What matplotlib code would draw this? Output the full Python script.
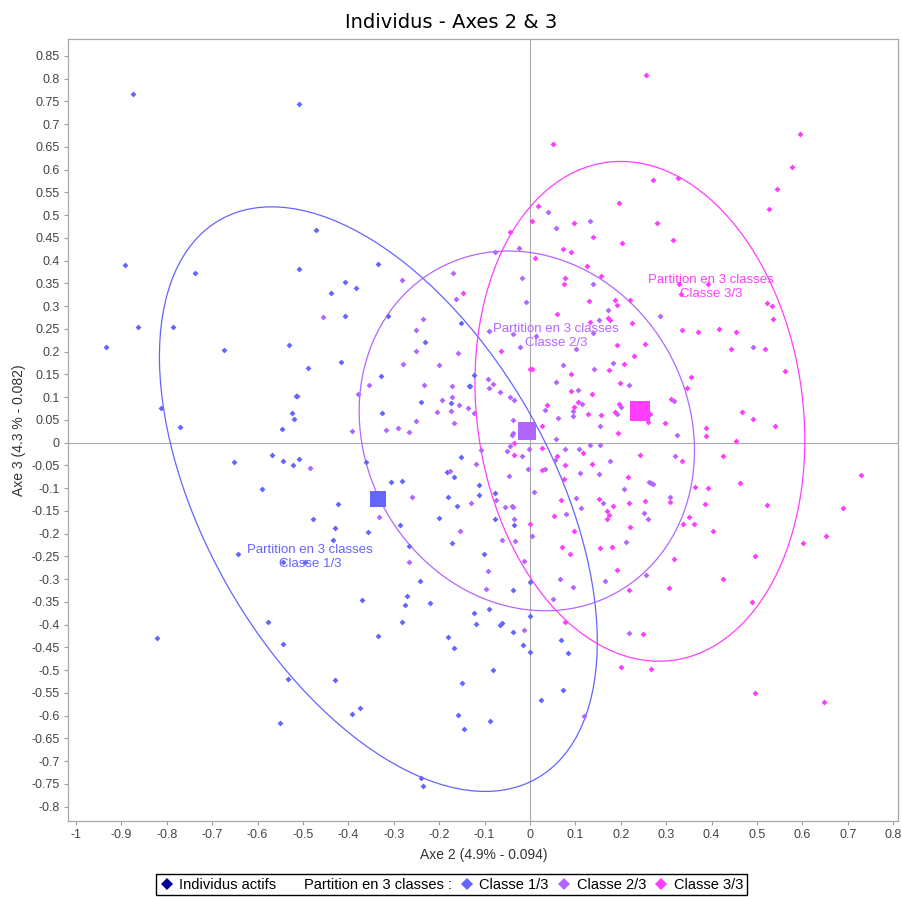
import matplotlib
matplotlib.use('Agg')
import matplotlib.pyplot as plt
from matplotlib.patches import Ellipse
from matplotlib.lines import Line2D
from matplotlib.ticker import FuncFormatter, MultipleLocator

plt.rcParams['font.family'] = ['Liberation Sans', 'DejaVu Sans']
plt.rcParams['axes.unicode_minus'] = False

# ---- individus, classe 1/3 ----
x1 = [-0.874, -0.508, -0.891, -0.737, -0.471, -0.508, -0.864, -0.786, -0.934, -0.675,
      -0.813, -0.772, -0.531, -0.488, -0.516, -0.514, -0.524, -0.520, -0.546, -0.438,
      -0.653, -0.568, -0.543, -0.523, -0.509, -0.590, -0.423, -0.479, -0.429, -0.433,
      -0.643, -0.543, -0.495, -0.576, -0.822, -0.543, -0.532, -0.430, -0.550, -0.391,
      -0.375, -0.241, -0.235, 0.072, 0.025, -0.089, -0.145, -0.159,
      -0.335, -0.408, -0.383,
      -0.408, -0.313, -0.153, -0.232, -0.417, -0.329, -0.123, -0.135, -0.132, -0.241,
      -0.175, -0.327,
      -0.361, -0.306, -0.282, -0.152, -0.183, -0.167, -0.112, -0.112, -0.076, -0.181,
      -0.160, -0.287, -0.200, -0.078, -0.356, -0.266, -0.172, -0.035, -0.101,
      -0.369, -0.242, -0.272, -0.276, -0.220, -0.283, -0.335, -0.180, -0.167, -0.123,
      -0.118, -0.090, -0.065, -0.062, -0.037, -0.037, -0.016, 0.001, 0.001, -0.001,
      -0.082, -0.149, 0.069, 0.084]
y1 = [0.766, 0.745, 0.391, 0.374, 0.468, 0.382, 0.254, 0.254, 0.210, 0.204,
      0.077, 0.034, 0.215, 0.164, 0.103, 0.102, 0.065, 0.052, 0.030, 0.328,
      -0.042, -0.026, -0.040, -0.048, -0.036, -0.102, -0.134, -0.168, -0.187, -0.214,
      -0.245, -0.262, -0.263, -0.393, -0.429, -0.442, -0.519, -0.521, -0.615, -0.596,
      -0.583, -0.736, -0.754, -0.544, -0.566, -0.612, -0.629, -0.599,
      0.393, 0.353, 0.340,
      0.278, 0.278, 0.263, 0.221, 0.177, 0.146, 0.149, 0.125, 0.124, 0.090,
      0.087, 0.066,
      -0.042, -0.087, -0.084, -0.031, -0.065, -0.076, -0.094, -0.116, -0.111, -0.119,
      -0.140, -0.181, -0.166, -0.168, -0.196, -0.226, -0.220, -0.180, -0.245,
      -0.345, -0.304, -0.337, -0.356, -0.352, -0.393, -0.425, -0.427, -0.451, -0.375,
      -0.399, -0.366, -0.401, -0.396, -0.323, -0.415, -0.445, -0.307, -0.381, -0.459,
      -0.500, -0.527, -0.434, -0.462]

# ---- individus, classe 2/3 ----
x2 = [-0.456, -0.485, 0.118,
      -0.283, -0.169, -0.162, -0.076, -0.024, -0.018, -0.009, 0.040,
      0.058, 0.133, 0.139, 0.171,
      -0.236, -0.251, -0.252, -0.159, -0.280, -0.200, -0.091, -0.038, 0.013, -0.021,
      -0.355, -0.234, -0.171, -0.378, -0.093, -0.081, -0.090, -0.066, -0.171, -0.193,
      -0.156, -0.136, -0.173, -0.205, -0.124, -0.043, -0.035, -0.251, -0.167, -0.037,
      -0.391, -0.317, -0.290, -0.267, -0.038, -0.040, 0.033,
      0.152, 0.139, 0.102, 0.286, 0.073, 0.140, 0.182, 0.057, 0.218, 0.106,
      0.115, 0.094, 0.095, 0.061, 0.155, 0.200, 0.192, 0.318, 0.491, 0.324,
      -0.176, -0.119, -0.109, -0.050, -0.043, -0.018, -0.003, -0.046, -0.004, -0.261,
      -0.333, -0.130, -0.075, -0.056, -0.040, -0.037, -0.035, -0.155, -0.062, -0.032,
      0.009, 0.004, -0.266, -0.013, 0.034,
      0.076, 0.109, 0.133, 0.154, 0.055, 0.176, 0.111, 0.151, 0.261, 0.266,
      0.270, 0.207, 0.319, 0.102, 0.161, 0.112, 0.079, 0.251, 0.260, 0.309,
      0.212, 0.057,
      -0.093, -0.098, -0.014,
      0.065, 0.095, 0.051, 0.166, 0.256, 0.218]
y2 = [0.277, -0.056, -0.601,
      0.357, 0.372, 0.316, 0.420, 0.427, 0.363, 0.309, 0.506,
      0.472, 0.487, 0.349, 0.292,
      0.272, 0.248, 0.202, 0.198, 0.172, 0.171, 0.245, 0.239, 0.234, 0.211,
      0.127, 0.127, 0.124, 0.107, 0.141, 0.130, 0.120, 0.111, 0.101, 0.093,
      0.083, 0.077, 0.070, 0.067, 0.066, 0.100, 0.093, 0.048, 0.043, 0.049,
      0.025, 0.028, 0.032, 0.024, 0.021, 0.016, 0.072,
      0.270, 0.241, 0.207, 0.279, 0.171, 0.163, 0.176, 0.133, 0.126, 0.115,
      0.085, 0.070, 0.058, 0.054, 0.037, 0.078, 0.064, 0.091, 0.210, 0.016,
      -0.062, -0.047, -0.016, -0.019, -0.007, -0.030, -0.013, -0.074, -0.057, -0.119,
      -0.164, -0.132, -0.126, -0.141, -0.138, -0.141, -0.168, -0.194, -0.214, -0.217,
      -0.109, -0.204, -0.263, -0.259, -0.057,
      -0.014, -0.014, -0.004, -0.004, -0.039, -0.040, -0.067, -0.069, -0.086, -0.088,
      -0.091, -0.102, -0.029, -0.122, -0.133, -0.144, -0.157, -0.155, -0.167, -0.119,
      -0.219, 0.008,
      -0.282, -0.322, -0.412,
      -0.299, -0.317, -0.344, -0.303, -0.291, -0.418]

# ---- individus, classe 3/3 ----
x3 = [0.255, 0.050, 0.595, 0.576, 0.545, 0.271, 0.325, 0.526, 0.521, 0.533,
      0.535, 0.518, 0.561, 0.539,
      0.728, 0.522, 0.689, 0.652, 0.601, 0.496, 0.648,
      -0.147, -0.043, 0.018, 0.005, 0.010,
      0.197, 0.097, 0.138, 0.202, 0.280, 0.316, 0.072, 0.091, 0.126, 0.156,
      0.076, 0.074, 0.131, 0.187, 0.192, 0.220, 0.059, 0.329, 0.391, 0.333,
      -0.063, 0.001, 0.004, 0.037, 0.027,
      0.133, 0.172, 0.176, 0.225, 0.335, 0.370, 0.416, 0.454, 0.443, 0.192,
      0.254, 0.230, 0.207, 0.175, 0.091, 0.198, 0.354, 0.346, 0.091, 0.136,
      0.105, 0.098, 0.128, 0.157, 0.187, 0.197, 0.310, 0.265, 0.259, 0.297,
      0.193, 0.387, 0.388, 0.468, 0.492,
      0.026, -0.035, 0.027, -0.035, 0.001,
      0.059, 0.076, 0.116, 0.136, 0.243, 0.074, 0.215, 0.335, 0.424, 0.454,
      0.462, 0.363, 0.393, 0.385, 0.069, 0.153, 0.217, 0.253, 0.308, 0.183,
      0.170, 0.174, 0.169, 0.052, 0.220, 0.097, 0.351, 0.337, 0.361, 0.402,
      0.070, 0.087, 0.154, 0.181, 0.318, 0.496,
      0.192, 0.217, 0.307, 0.425, 0.489, 0.076, 0.249, 0.201, 0.267]
y3 = [0.808, 0.656, 0.679, 0.607, 0.558, 0.577, 0.582, 0.514, 0.306, 0.300,
      0.271, 0.207, 0.158, 0.037,
      -0.071, -0.137, -0.143, -0.206, -0.221, -0.549, -0.569,
      0.330, 0.462, 0.520, 0.488, 0.406,
      0.527, 0.483, 0.453, 0.440, 0.483, 0.445, 0.426, 0.420, 0.388, 0.367,
      0.363, 0.348, 0.311, 0.313, 0.303, 0.314, 0.283, 0.348, 0.348, 0.327,
      0.202, 0.163, 0.161, 0.083, 0.036,
      0.266, 0.273, 0.269, 0.262, 0.248, 0.243, 0.249, 0.243, 0.207, 0.215,
      0.218, 0.191, 0.174, 0.160, 0.150, 0.132, 0.144, 0.121, 0.113, 0.106,
      0.090, 0.078, 0.064, 0.060, 0.068, 0.084, 0.095, 0.064, 0.046, 0.044,
      0.021, 0.032, 0.014, 0.068, 0.053,
      -0.059, -0.026, -0.011, 0.000, -0.179,
      -0.029, -0.050, -0.022, -0.047, -0.026, -0.080, -0.075, -0.040, -0.029, 0.004,
      -0.089, -0.097, -0.100, -0.135, -0.126, -0.123, -0.132, -0.127, -0.130, -0.138,
      -0.150, -0.159, -0.168, -0.161, -0.185, -0.193, -0.163, -0.179, -0.179, -0.194,
      -0.230, -0.244, -0.232, -0.229, -0.256, -0.248,
      -0.280, -0.323, -0.319, -0.299, -0.351, -0.393, -0.420, -0.493, -0.498]

# centres de classes + ellipses
classes = ['Classe 1/3', 'Classe 2/3', 'Classe 3/3']
centre_x = [-0.334, -0.007, 0.242]
centre_y = [-0.124, 0.026, 0.069]
ell_w = [1.412, 0.813, 1.104]
ell_h = [0.766, 0.714, 0.718]
ell_angle = [-60.4, -60.9, -82.4]
label_x = [-0.485, 0.058, 0.398]
label_y = [-0.251, 0.2345, 0.343]

colors = ['#6464ff', '#b266ff', '#ff3dff']
sq_size = [12, 13, 14.4]

fig = plt.figure(figsize=(9.03, 8.97), dpi=100)
ax = fig.add_axes([0.0756, 0.0847, 0.9192, 0.8715])

ax.axhline(0, color='#a8a8a8', lw=0.8, zorder=1)
ax.axvline(0, color='#a8a8a8', lw=0.8, zorder=1)

pts = [(x1, y1), (x2, y2), (x3, y3)]
for i in range(3):
  px, py = pts[i]
  ax.plot(px, py, 'D', color=colors[i], ms=3.0, mew=0, ls='none', zorder=3)
  e = Ellipse((centre_x[i], centre_y[i]), ell_w[i], ell_h[i], angle=ell_angle[i],
              fill=False, ec=colors[i], lw=0.9, zorder=2)
  ax.add_patch(e)
  ax.plot(centre_x[i], centre_y[i], 's', color=colors[i], ms=sq_size[i], mew=0, zorder=4)
  ax.text(label_x[i], label_y[i], 'Partition en 3 classes\n' + classes[i],
          color=colors[i], fontsize=9.5, ha='center', va='center',
          multialignment='center', linespacing=1.25, zorder=5)

ax.set_xlim(-1.017, 0.8112)
ax.set_ylim(-0.8314, 0.8866)
ax.xaxis.set_major_locator(MultipleLocator(0.1))
ax.yaxis.set_major_locator(MultipleLocator(0.05))
fmt = FuncFormatter(lambda v, p: '%g' % (round(v, 3) + 0.0))
ax.xaxis.set_major_formatter(fmt)
ax.yaxis.set_major_formatter(fmt)
ax.tick_params(direction='out', length=3, width=0.8, color='#a0a0a0',
               labelsize=9, labelcolor='#444444', pad=3)
for s in ax.spines.values():
  s.set_color('#a8a8a8')
  s.set_linewidth(0.9)

ax.set_xlabel('Axe 2 (4.9% - 0.094)', fontsize=10, color='#333333', labelpad=5)
ax.set_ylabel('Axe 3 (4.3 % - 0.082)', fontsize=10, color='#333333', labelpad=4)
fig.suptitle('Individus - Axes 2 & 3', fontsize=14, family='DejaVu Sans',
             x=0.5, y=0.975, va='center')

# legende
handles = [Line2D([], [], marker='D', color='#000099', ls='none', ms=6.4, mew=0),
           Line2D([], [], ls='none')]
labels = ['Individus actifs', 'Partition en 3 classes :']
for i in range(3):
  handles.append(Line2D([], [], marker='D', color=colors[i], ls='none', ms=6.4, mew=0))
  labels.append(classes[i])
leg = fig.legend(handles, labels, loc='upper center', bbox_to_anchor=(0.5, 1 - 874 / 897.),
                 ncol=5, fontsize=10.5, frameon=True, fancybox=False, framealpha=1,
                 edgecolor='black', handlelength=0.9, handletextpad=0.4,
                 columnspacing=0.6, borderpad=0.25, borderaxespad=0)
leg.get_frame().set_linewidth(1.0)

plt.savefig('out.png', dpi=100)
